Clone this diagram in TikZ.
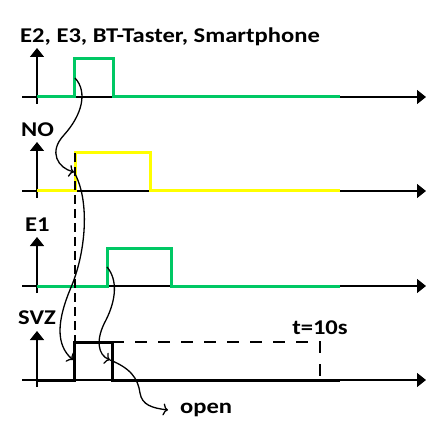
\documentclass[tikz,border=0pt]{standalone}
\usepackage{fontspec}
\setmainfont{Carlito}[FakeStretch=1.17]
\usetikzlibrary{arrows.meta}

\definecolor{sigGreen}{RGB}{0,200,100}
\definecolor{sigYellow}{RGB}{255,255,0}

\begin{document}
\begin{tikzpicture}[
			x=1pt,y=-1pt,
			axis/.style={line width=1.5pt,-{Triangle[length=9pt,width=14pt]}},
			signal/.style={line width=3pt,line join=miter},
			cause/.style={line width=1.3pt,-{To[length=5pt,width=12pt]}},
			timer/.style={line width=1.5pt,dash pattern=on 12pt off 11pt},
			marker/.style={line width=1.5pt,dash pattern=on 9pt off 5pt},
			every node/.style={font=\bfseries\fontsize{21}{24}\selectfont,inner sep=0pt}
			]
			\useasboundingbox (0,0) rectangle (426,425);
			
			%--------------------------------------------------
			% Axes
			%--------------------------------------------------
			
			\foreach \b in {97,191,286,380}{
				\draw[axis] (22,\b) -- (426,\b);
				\draw[axis] (37,\b+7) -- (37,\b-49);
			}
			
			%--------------------------------------------------
			% Labels
			%--------------------------------------------------
			
			\node (inputs) [anchor=west] at (20,37) {E2, E3, BT-Taster, Smartphone};
			\node (no) [anchor=west] at (21,130) {NO};
			\node (eone) [anchor=west] at (25,225) {E1};
			\node (svz) [anchor=west] at (18,318) {SVZ};
			\node (tten) at (320,328) {t=10s};
			\node (open) [anchor=west] at (180,410) {open};
			
			%--------------------------------------------------
			% Signals
			%--------------------------------------------------
			
			\draw[signal,sigGreen]
			(37,97) -- (74,97) -- (74,59) -- (113,59) -- (113,97) -- (340,97);
			
			\draw[signal,sigYellow]
			(37,191) -- (75,191) -- (75,153) -- (150,153) -- (150,191) -- (340,191);
			
			\draw[signal,sigGreen]
			(37,286) -- (107,286) -- (107,248) -- (171,248) -- (171,286) -- (340,286);
			
			\draw[signal,black]
			(37,380) -- (74,380) -- (74,342) -- (112,342) -- (112,380) -- (340,380);
			
			\draw[timer] (112,342) -- (320,342) -- (320,380);
			\draw[marker] (75,153) -- (75,342);
			
			%--------------------------------------------------
			% Causes
			%--------------------------------------------------
			
			\coordinate (inRise) at (75,78);
			\coordinate (noRise) at (74,172);
			\coordinate (eoneRise) at (107,267);
			\coordinate (svzRise) at (73,360);
			\coordinate (svzFall) at (110,360);
			
			\draw[cause]
			(inRise) .. controls (88,92) and (82,115) .. (64,135)
			.. controls (48,152) and (58,168) .. (noRise);
			
			\draw[cause]
			(noRise) .. controls (90,200) and (86,250) .. (72,285)
			.. controls (56,322) and (56,345) .. (svzRise);
			
			\draw[cause]
			(eoneRise) .. controls (118,280) and (116,300) .. (106,320)
			.. controls (95,340) and (98,355) .. (svzFall);
			
			\draw[cause]
			(svzFall) .. controls (130,368) and (138,378) .. (140,393)
			.. controls (142,405) and (152,408) .. ([xshift=-12pt]open.west);
			
		\end{tikzpicture}
\end{document}
